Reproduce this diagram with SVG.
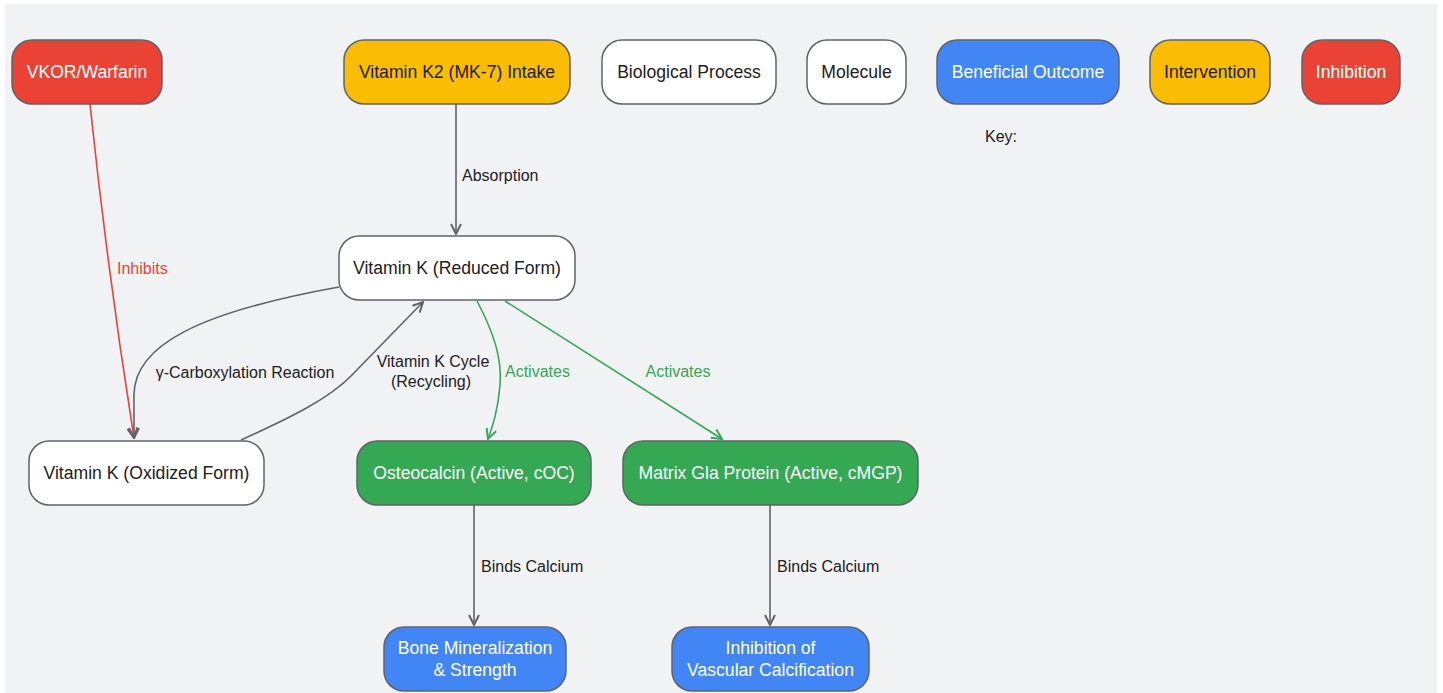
<svg xmlns="http://www.w3.org/2000/svg" width="1443" height="693" viewBox="0 0 1443 693">
<defs>
<style>
.n rect{stroke:#5f6368;stroke-width:1.5}
.n text{font-family:"Liberation Sans",Arial,sans-serif;font-size:17.6px;text-anchor:middle;dominant-baseline:central}
.w rect{fill:#ffffff}.w text{fill:#202124}
.y rect{fill:#fbbc04}.y text{fill:#202124}
.r rect{fill:#ea4335}.r text{fill:#ffffff}
.g rect{fill:#34a853}.g text{fill:#ffffff}
.b rect{fill:#4285f4}.b text{fill:#ffffff}
.e path{fill:none;stroke-width:1.6}
.gr{stroke:#5f6368}
.rd{stroke:#ea4335}
.gn{stroke:#34a853}
.lbl{font-family:"Liberation Sans",Arial,sans-serif;font-size:16px;dominant-baseline:central;fill:#202124}
.lr{fill:#ea4335}.lg{fill:#34a853}
</style>
<marker id="ag" viewBox="0 0 12 12" refX="11" refY="6" markerWidth="12" markerHeight="12" markerUnits="userSpaceOnUse" orient="auto"><path d="M1,1 L11,6 L1,11" fill="none" stroke="#5f6368" stroke-width="2"/></marker>
<marker id="ar" viewBox="0 0 12 12" refX="11" refY="6" markerWidth="12" markerHeight="12" markerUnits="userSpaceOnUse" orient="auto"><path d="M1,1 L11,6 L1,11" fill="none" stroke="#5f6368" stroke-width="2"/></marker>
<marker id="an" viewBox="0 0 12 12" refX="11" refY="6" markerWidth="12" markerHeight="12" markerUnits="userSpaceOnUse" orient="auto"><path d="M1,1 L11,6 L1,11" fill="none" stroke="#34a853" stroke-width="2"/></marker>
</defs>
<rect x="0" y="0" width="1443" height="693" fill="#ffffff"/>
<rect x="5" y="4" width="1432" height="689" fill="#f1f2f4"/>

<g id="connectors" class="e">
<path class="rd" d="M90,104 C100,200 112,300 134,438" marker-end="url(#ar)"/>
<path class="gr" d="M456,104 L456,234" marker-end="url(#ag)"/>
<path class="gr" d="M339,287 C200,312 134,345 134,395 L134,438" marker-end="url(#ag)"/>
<path class="gr" d="M241,440 C292,417 330,398 352,375 L423,302" marker-end="url(#ag)"/>
<path class="gn" d="M477,301 C495,335 502,360 500,385 C498,410 493,425 488,439" marker-end="url(#an)"/>
<path class="gn" d="M505,301 L722,439" marker-end="url(#an)"/>
<path class="gr" d="M474,505 L474,625" marker-end="url(#ag)"/>
<path class="gr" d="M770,505 L770,625" marker-end="url(#ag)"/>
<text class="lbl lr" x="117" y="268">Inhibits</text>
<text class="lbl" x="462" y="175">Absorption</text>
<text class="lbl" x="245" y="372" text-anchor="middle">γ-Carboxylation Reaction</text>
<text class="lbl" x="433" y="361" text-anchor="middle">Vitamin K Cycle</text>
<text class="lbl" x="431" y="381" text-anchor="middle">(Recycling)</text>
<text class="lbl lg" x="505" y="371">Activates</text>
<text class="lbl lg" x="678" y="371" text-anchor="middle">Activates</text>
<text class="lbl" x="481" y="566">Binds Calcium</text>
<text class="lbl" x="777" y="566">Binds Calcium</text>
</g>

<g id="vkor" class="n r"><rect x="12" y="40" width="150" height="64" rx="20"/><text x="87" y="72">VKOR/Warfarin</text></g>
<g id="k2" class="n y"><rect x="344" y="40" width="226" height="64" rx="20"/><text x="457" y="72">Vitamin K2 (MK-7) Intake</text></g>
<g id="key-process" class="n w"><rect x="602" y="40" width="174" height="64" rx="20"/><text x="689" y="72">Biological Process</text></g>
<g id="key-molecule" class="n w"><rect x="807" y="40" width="99" height="64" rx="20"/><text x="856.5" y="72">Molecule</text></g>
<g id="key-outcome" class="n b"><rect x="937" y="40" width="182" height="64" rx="20"/><text x="1028" y="72">Beneficial Outcome</text></g>
<g id="key-intervention" class="n y"><rect x="1150" y="40" width="120" height="64" rx="20"/><text x="1210" y="72">Intervention</text></g>
<g id="key-inhibition" class="n r"><rect x="1302" y="40" width="98" height="64" rx="20"/><text x="1351" y="72">Inhibition</text></g>
<text x="1001" y="136" font-family="Liberation Sans,Arial,sans-serif" font-size="16" text-anchor="middle" dominant-baseline="central" fill="#202124">Key:</text>
<g id="reduced" class="n w"><rect x="339" y="236" width="236" height="64" rx="20"/><text x="457" y="268">Vitamin K (Reduced Form)</text></g>
<g id="oxidized" class="n w"><rect x="29" y="441" width="235" height="64" rx="20"/><text x="146.5" y="473">Vitamin K (Oxidized Form)</text></g>
<g id="osteocalcin" class="n g"><rect x="357" y="441" width="234" height="64" rx="20"/><text x="474" y="473">Osteocalcin (Active, cOC)</text></g>
<g id="mgp" class="n g"><rect x="623" y="441" width="295" height="64" rx="20"/><text x="770.5" y="473">Matrix Gla Protein (Active, cMGP)</text></g>
<g id="bone" class="n b"><rect x="384" y="627" width="182" height="64" rx="20"/><text x="475" y="648">Bone Mineralization</text><text x="475" y="670">&amp; Strength</text></g>
<g id="vascular" class="n b"><rect x="672" y="627" width="197" height="64" rx="20"/><text x="770.5" y="648">Inhibition of</text><text x="770.5" y="670">Vascular Calcification</text></g>
</svg>
